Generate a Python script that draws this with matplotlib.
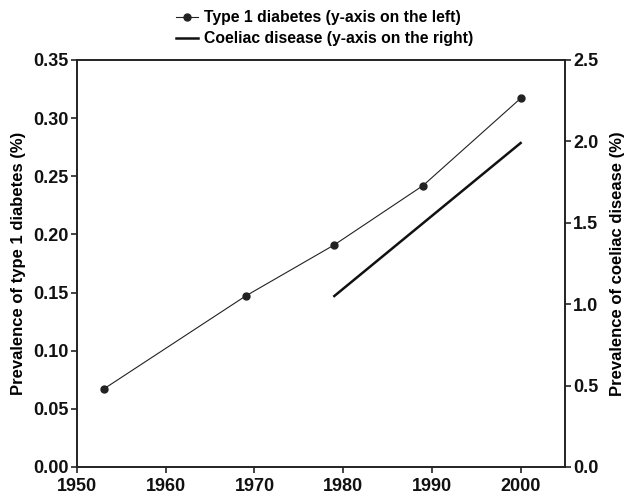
import matplotlib
matplotlib.use("Agg")
import matplotlib.pyplot as plt
from matplotlib.ticker import FormatStrFormatter

plt.rcParams['font.family'] = ['Liberation Sans', 'DejaVu Sans']
plt.rcParams['font.weight'] = 'bold'

t1d_years = [1953, 1969, 1979, 1989, 2000]
t1d_values = [0.067, 0.147, 0.191, 0.242, 0.317]
cd_years = [1979, 2000]
cd_values = [1.05, 1.99]

left_ticks = [0.00, 0.05, 0.10, 0.15, 0.20, 0.25, 0.30, 0.35]
right_ticks = [0.0, 0.5, 1.0, 1.5, 2.0, 2.5]
x_ticks = [1950, 1960, 1970, 1980, 1990, 2000]

fig = plt.figure(figsize=(6.3, 4.97), dpi=100)
ax = fig.add_axes([0.1222, 0.0604, 0.7746, 0.8189])
ax2 = ax.twinx()

l1, = ax.plot(t1d_years, t1d_values, color='#222222', lw=0.8, marker='o', ms=5,
              label='Type 1 diabetes (y-axis on the left)')
l2, = ax2.plot(cd_years, cd_values, color='#111111', lw=1.8,
               label='Coeliac disease (y-axis on the right)')

ax.set_xlim(1950, 2005)
ax.set_ylim(0, 0.35)
ax2.set_ylim(0, 2.5)
ax.set_xticks(x_ticks)
ax.set_yticks(left_ticks)
ax2.set_yticks(right_ticks)
ax.yaxis.set_major_formatter(FormatStrFormatter('%.2f'))
ax2.yaxis.set_major_formatter(FormatStrFormatter('%.1f'))

for a in (ax, ax2):
    for s in a.spines.values():
        s.set_linewidth(1.2)
        s.set_color('#222222')
    a.tick_params(direction='out', length=4, width=1.1, labelsize=13, colors='#111111', pad=2)
ax.tick_params(axis='x', pad=4)

ax.set_ylabel('Prevalence of type 1 diabetes (%)', fontsize=12, fontweight='bold', labelpad=5)
ax2.set_ylabel('Prevalence of coeliac disease (%)', fontsize=12, fontweight='bold', labelpad=8)

fig.legend(handles=[l1, l2], loc='upper center', bbox_to_anchor=(0.515, 1.008), frameon=False,
           handlelength=1.4, handletextpad=0.4, labelspacing=0.4,
           prop={'weight': 'bold', 'size': 11.3})

fig.savefig('out.png', dpi=100)
